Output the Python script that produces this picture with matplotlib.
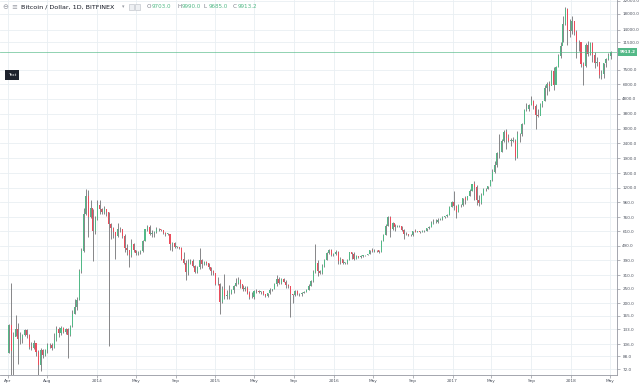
import numpy as np
import pandas as pd
import matplotlib
matplotlib.use("Agg")
import matplotlib.pyplot as plt
from matplotlib.patches import Rectangle
from matplotlib.ticker import NullLocator
import matplotlib.transforms as mtransforms

# ---------------- data (weekly candles) ----------------
week_start = "2013-04-01"
first_open = 93.0
closes = [
    142, 95, 119, 134, 115, 117, 122, 132, 122, 101, 100, 107, 94, 77, 96, 90, 96, 104, 105, 100,
    113, 135, 126, 137, 128, 133, 123, 140, 170, 190, 210, 330, 450, 800, 1050, 760, 880, 610, 740, 920,
    860, 830, 860, 820, 680, 640, 600, 565, 630, 635, 565, 470, 455, 420, 500, 460, 435, 440, 450, 525,
    630, 655, 590, 595, 600, 635, 630, 625, 595, 590, 590, 500, 510, 480, 480, 475, 400, 375, 325, 375,
    385, 355, 325, 350, 390, 365, 380, 375, 350, 330, 318, 270,
    270, 205, 250, 225, 225, 235, 245, 260, 275, 285, 270, 250, 255, 236, 222, 220, 240, 240, 237, 240,
    230, 225, 233, 245, 250, 270, 290, 275, 290, 280, 265, 260, 230, 228, 240, 230, 232, 235, 238, 247,
    262, 283, 325, 375, 330, 320, 355, 390, 435, 460, 420, 430,
    445, 385, 400, 375, 376, 390, 440, 430, 400, 415, 410, 418, 420, 420, 430, 455, 450, 460, 455, 440,
    525, 575, 660, 760, 635, 700, 650, 665, 660, 625, 590, 585, 580, 575, 610, 605, 610, 602, 615, 617,
    640, 655, 700, 710, 705, 730, 735, 765, 770, 790, 890, 970,
    900, 820, 925, 920, 1020, 1000, 1050, 1150, 1270, 1220, 1000, 950, 1080, 1180, 1170, 1230, 1350, 1530, 1710, 2050,
    2100, 2500, 2850, 2600, 2500, 2500, 2500, 1950, 2750, 2750, 3250, 4050, 4100, 4350, 4600, 4300, 3700, 3650, 4400, 4600,
    5700, 6000, 5800, 7400, 5900, 7800, 9300, 10900, 15200, 19200, 14000, 13800,
    16000, 13500, 11500, 11500, 8200, 8000, 11000, 9600, 11400, 9500, 8300, 8500, 6900, 7000, 8300, 8900, 9300, 9913.2,
]
highs = [
    145, 275, 128, 166, 148, 127, 124, 134, 135, 124, 110, 113, 107, 96, 100, 98, 98, 107, 108, 107,
    125, 140, 138, 141, 138, 136, 136, 142, 180, 215, 220, 340, 470, 880, 1180, 1160, 1000, 870, 780, 1000,
    1000, 880, 900, 870, 830, 700, 650, 600, 700, 650, 635, 590, 500, 460, 540, 510, 460, 450, 455, 530,
    635, 670, 670, 620, 615, 655, 640, 630, 625, 600, 595, 590, 520, 515, 490, 480, 480, 440, 390, 400,
    400, 395, 360, 355, 470, 400, 385, 385, 375, 350, 335, 320,
    300, 275, 260, 315, 245, 265, 250, 265, 295, 300, 290, 265, 260, 260, 240, 238, 245, 248, 245, 243,
    242, 232, 235, 255, 250, 275, 310, 300, 295, 298, 285, 270, 260, 232, 245, 245, 235, 237, 240, 250,
    268, 288, 335, 500, 390, 335, 365, 400, 440, 465, 465, 435,
    460, 450, 410, 400, 380, 395, 445, 440, 440, 420, 418, 420, 422, 425, 432, 460, 470, 465, 460, 460,
    535, 590, 685, 780, 770, 710, 680, 675, 675, 665, 630, 600, 590, 590, 615, 630, 615, 610, 620, 620,
    645, 660, 720, 745, 740, 755, 750, 775, 775, 795, 900, 980,
    1150, 920, 935, 930, 1030, 1060, 1060, 1180, 1280, 1330, 1250, 1080, 1100, 1200, 1200, 1240, 1360, 1600, 1810, 2100,
    2750, 2550, 2950, 3000, 2750, 2600, 2650, 2550, 2900, 2800, 3300, 4100, 4480, 4400, 4980, 4700, 4400, 4100, 4450, 4650,
    5900, 6200, 6300, 7500, 7900, 8000, 9600, 11500, 17200, 19800, 19500, 16500,
    17200, 16000, 14000, 12000, 11500, 8500, 11300, 11700, 11600, 11600, 9900, 9100, 8500, 7500, 8400, 9000, 9700, 9990,
]
lows = [
    92, 50, 66, 120, 78, 106, 108, 120, 117, 98, 96, 98, 88, 65, 70, 86, 88, 92, 100, 97,
    100, 112, 119, 122, 125, 124, 86, 120, 138, 168, 180, 210, 320, 440, 790, 560, 750, 386, 590, 730,
    800, 800, 800, 780, 103, 540, 550, 400, 560, 600, 550, 440, 420, 350, 410, 440, 420, 420, 430, 445,
    525, 610, 575, 560, 560, 595, 610, 610, 590, 570, 580, 460, 450, 470, 470, 465, 390, 370, 285, 310,
    370, 350, 320, 320, 340, 345, 360, 360, 340, 310, 310, 265,
    265, 168, 200, 215, 215, 215, 230, 235, 260, 270, 255, 240, 240, 230, 215, 216, 215, 235, 233, 232,
    228, 220, 222, 232, 240, 250, 260, 270, 270, 278, 255, 255, 162, 200, 225, 228, 225, 225, 235, 238,
    245, 262, 280, 320, 305, 315, 315, 350, 390, 430, 415, 415,
    425, 365, 370, 365, 365, 370, 390, 400, 390, 400, 405, 405, 410, 415, 420, 428, 440, 440, 445, 435,
    440, 525, 575, 660, 560, 620, 610, 650, 650, 615, 540, 575, 570, 565, 570, 600, 600, 595, 600, 605,
    615, 630, 655, 685, 700, 700, 725, 730, 750, 765, 790, 890,
    850, 750, 820, 890, 910, 930, 990, 1050, 1150, 1000, 920, 900, 930, 1070, 1150, 1170, 1230, 1340, 1500, 1650,
    1900, 2100, 2450, 2200, 2450, 2300, 2450, 1850, 1900, 2450, 2700, 3250, 3950, 3950, 4350, 4100, 3000, 3600, 3900, 4200,
    4600, 5100, 5400, 6100, 5500, 6300, 7900, 9000, 11500, 15000, 11000, 12500,
    13000, 12800, 9000, 10000, 7800, 5900, 7900, 9300, 9400, 8500, 7700, 8000, 6600, 6500, 6600, 7800, 8700, 8900,
]
price_ticks = [72, 88, 106, 133, 165, 200, 250, 310, 390, 490, 610, 760, 960, 1200, 1500,
               1900, 2400, 3000, 3800, 4800, 6000, 7500, 11500, 14000, 18000, 22000]
date_tick_dates = ["2013-04-01", "2013-08-01", "2014-01-01", "2014-05-01", "2014-09-01",
                   "2015-01-01", "2015-05-01", "2015-09-01", "2016-01-01", "2016-05-01",
                   "2016-09-01", "2017-01-01", "2017-05-01", "2017-09-01", "2018-01-01", "2018-05-01"]
date_tick_labels = ["Apr", "Aug", "2014", "May", "Sep", "2015", "May", "Sep", "2016", "May",
                    "Sep", "2017", "May", "Sep", "2018", "May"]
last_price = 9913.2
header_title = "Bitcoin / Dollar, 1D, BITFINEX"
ohlc_letters = ["O", "H", "L", "C"]
ohlc_values = ["9703.0", "9990.0", "9685.0", "9913.2"]
x_range = ("2013-03-08", "2018-05-23")
y_range = (65.6, 22200)

# ---------------- styling ----------------
UP = "#53b987"
DOWN = "#eb4d5c"
WICK = "#737375"
GRID = "#e9eff3"
AXC = "#9598a1"
TXT = "#4c525e"
plt.rcParams["font.family"] = ["DejaVu Sans"]

W, H = 640, 386
fig = plt.figure(figsize=(6.4, 3.86), dpi=100)
ax = fig.add_axes([0, 11 / H, 617 / W, 375 / H])

ref = pd.Timestamp("2014-01-01")
def dx(s):
    return (pd.Timestamp(s) - ref).days

dates = pd.date_range(week_start, periods=len(closes), freq="7D")
xs = np.array([(d - ref).days + 3.0 for d in dates], dtype=float)
c = np.array(closes, float)
h = np.array(highs, float)
l = np.array(lows, float)
o = np.concatenate([[first_open], c[:-1]])
up = c >= o

ax.set_yscale("log")
ax.vlines(xs, l, h, color=WICK, lw=0.6, zorder=2)
bot = np.minimum(o, c)
top = np.maximum(o, c)
top = np.maximum(top, bot * 1.006)
ax.bar(xs, top - bot, bottom=bot, width=3.2, color=np.where(up, UP, DOWN),
       linewidth=0, zorder=3)

ax.set_xlim(dx(x_range[0]), dx(x_range[1]))
ax.set_ylim(*y_range)

ax.axhline(last_price, color=UP, lw=0.6, alpha=0.75, zorder=4)

ax.yaxis.tick_right()
ax.set_yticks(price_ticks)
ax.set_yticklabels([f"{v:.1f}" for v in price_ticks])
ax.yaxis.set_minor_locator(NullLocator())
ax.set_xticks([dx(d) for d in date_tick_dates])
ax.set_xticklabels(date_tick_labels)
ax.tick_params(axis="y", length=2.5, width=0.5, color=AXC, labelcolor=TXT, labelsize=3.0, pad=1.3)
ax.tick_params(axis="x", length=2.0, width=0.5, color=AXC, labelcolor=TXT, labelsize=3.1, pad=1.2)
ax.grid(True, color=GRID, lw=0.6, zorder=0)
ax.set_axisbelow(True)
for s in ("left", "top"):
    ax.spines[s].set_visible(False)
for s in ("right", "bottom"):
    ax.spines[s].set_color(AXC)
    ax.spines[s].set_linewidth(0.6)

# current price label
trans = mtransforms.blended_transform_factory(ax.transAxes, ax.transData)
ax.text(1.004, last_price, f"{last_price:.1f}", transform=trans, ha="left", va="center",
        fontsize=3.0, color="white", fontweight="bold", clip_on=False, zorder=6,
        bbox=dict(boxstyle="square,pad=0.45", fc=UP, ec="none"))

# "Text" label box
fig.text(12 / W, 1 - 75 / H, "Text", ha="center", va="center", fontsize=3.0, color="white",
         bbox=dict(boxstyle="square,pad=0.7", fc="#1e222d", ec="none"))

# header legend
hy = 1 - 7 / H
fig.text(5.5 / W, hy, "\u2296", ha="center", va="center", fontsize=5, color="#9598a1")
fig.text(14 / W, hy, "\u2261", ha="center", va="center", fontsize=5, color="#9598a1")
fig.text(21 / W, hy, header_title, ha="left", va="center", fontsize=4.6, color="#131722")
fig.text(123 / W, hy, "\u25be", ha="center", va="center", fontsize=3.5, color="#9598a1")
for x0 in (129, 135):
    fig.patches.append(Rectangle((x0 / W, 1 - 10 / H), 5 / W, 6 / H, transform=fig.transFigure,
                                 fc="#eef0f3", ec="#b8bcc4", lw=0.4))
letter_x = [147, 177, 204, 233]
for lx, lt, lv in zip(letter_x, ohlc_letters, ohlc_values):
    fig.text(lx / W, hy, lt, ha="left", va="center", fontsize=4.1, color="#787b86")
    fig.text((lx + 5) / W, hy, lv, ha="left", va="center", fontsize=4.1, color=UP)

fig.savefig("out.png", dpi=100, facecolor="white")
